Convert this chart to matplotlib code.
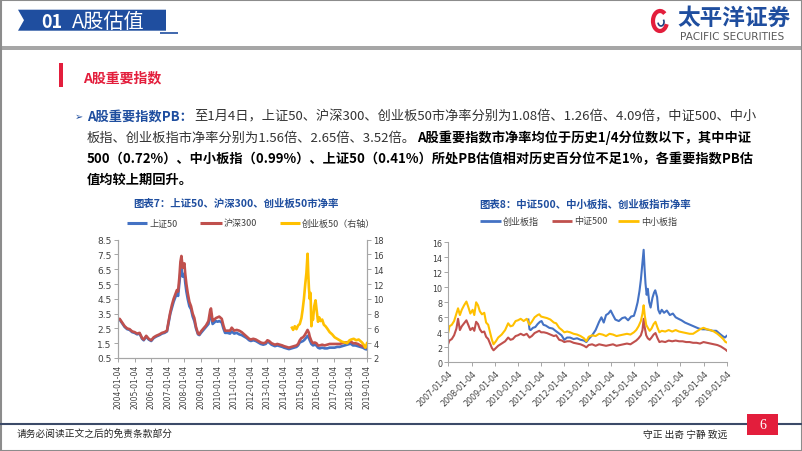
import matplotlib
matplotlib.use('Agg')
import matplotlib.pyplot as plt
from matplotlib.patches import Polygon, Rectangle, Arc
from matplotlib.lines import Line2D

W, H = 802, 452
FAM = ['Noto Sans CJK SC', 'DejaVu Sans']
BLUE = '#1F4E9F'
C_BLUE, C_RED, C_YEL = '#4472C4', '#C0504D', '#FFC000'
GRID = '#A6A6A6'
TICK = '#404040'

# ---- chart 7 data: 上证50 / 沪深300 (left axis), 创业板50 (right axis)
t_big = [2004.0, 2004.1, 2004.25, 2004.4, 2004.55, 2004.7, 2004.85,
         2005.0, 2005.15, 2005.3, 2005.45, 2005.55, 2005.7, 2005.85,
         2006.0, 2006.15, 2006.3, 2006.5, 2006.65, 2006.8, 2006.95,
         2007.05, 2007.15, 2007.25, 2007.35, 2007.45, 2007.55, 2007.62, 2007.7, 2007.76, 2007.82, 2007.9,
         2008.0, 2008.05, 2008.12, 2008.2, 2008.3, 2008.4, 2008.5, 2008.6, 2008.7, 2008.82, 2008.9,
         2009.0, 2009.15, 2009.3, 2009.45, 2009.55, 2009.6, 2009.7, 2009.8, 2009.9,
         2010.0, 2010.1, 2010.25, 2010.35, 2010.45, 2010.6, 2010.75, 2010.85,
         2011.0, 2011.15, 2011.3, 2011.45, 2011.6, 2011.75, 2011.9,
         2012.0, 2012.15, 2012.3, 2012.45, 2012.6, 2012.75, 2012.9,
         2013.0, 2013.1, 2013.25, 2013.45, 2013.6, 2013.75, 2013.9,
         2014.0, 2014.15, 2014.3, 2014.45, 2014.6, 2014.75, 2014.85, 2014.95,
         2015.05, 2015.15, 2015.25, 2015.35, 2015.42, 2015.5, 2015.55, 2015.65, 2015.75, 2015.85, 2015.95,
         2016.05, 2016.15, 2016.3, 2016.45, 2016.6, 2016.75, 2016.9,
         2017.05, 2017.2, 2017.35, 2017.5, 2017.65, 2017.8, 2017.95,
         2018.05, 2018.15, 2018.3, 2018.45, 2018.6, 2018.75, 2018.9, 2019.0]
sz50 = [3.05, 3.1, 2.85, 2.6, 2.45, 2.4, 2.25,
        2.2, 2.1, 2.15, 1.8, 1.7, 1.95, 1.75,
        1.65, 1.85, 1.95, 2.05, 2.15, 2.2, 2.3,
        2.9, 3.5, 3.9, 4.3, 4.6, 4.9, 4.7, 5.6, 6.3, 6.5, 6.0,
        6.2, 5.6, 5.0, 4.5, 4.0, 3.8, 3.3, 3.0, 2.5, 2.1, 2.05,
        2.2, 2.4, 2.6, 2.8, 3.4, 3.5, 2.8, 2.9, 3.0,
        2.95, 3.0, 2.9, 2.5, 2.2, 2.2, 2.15, 2.3,
        2.15, 2.2, 2.1, 2.05, 1.95, 1.85, 1.7,
        1.65, 1.7, 1.65, 1.55, 1.45, 1.4, 1.45,
        1.6, 1.55, 1.4, 1.3, 1.35, 1.3, 1.25,
        1.2, 1.15, 1.1, 1.15, 1.2, 1.25, 1.35, 1.55,
        1.6, 1.65, 1.75, 1.9, 2.0, 1.85, 1.7, 1.45, 1.35, 1.4, 1.35,
        1.2, 1.15, 1.2, 1.15, 1.15, 1.2, 1.2,
        1.2, 1.25, 1.25, 1.3, 1.35, 1.4, 1.45,
        1.45, 1.35, 1.35, 1.3, 1.25, 1.2, 1.1, 1.08]
hs300 = [3.1, 3.15, 2.9, 2.65, 2.5, 2.45, 2.3,
         2.25, 2.15, 2.2, 1.85, 1.75, 2.0, 1.8,
         1.7, 1.9, 2.0, 2.1, 2.2, 2.25, 2.35,
         3.0, 3.6, 4.1, 4.5, 4.8, 5.1, 5.0, 6.0, 7.0, 7.4, 6.6,
         6.9, 6.2, 5.5, 4.9, 4.3, 4.0, 3.5, 3.2, 2.6, 2.15, 2.1,
         2.3, 2.5, 2.7, 3.0, 3.7, 3.85, 3.0, 3.1, 3.2,
         3.25, 3.3, 3.15, 2.7, 2.35, 2.35, 2.35, 2.55,
         2.35, 2.4, 2.35, 2.25, 2.1, 1.95, 1.8,
         1.75, 1.8, 1.75, 1.65, 1.55, 1.5, 1.55,
         1.7, 1.65, 1.5, 1.4, 1.45, 1.4, 1.35,
         1.3, 1.25, 1.2, 1.25, 1.3, 1.35, 1.45, 1.7,
         1.85, 1.9, 2.05, 2.25, 2.4, 2.2, 1.95, 1.65, 1.5, 1.55, 1.5,
         1.35, 1.35, 1.4, 1.35, 1.4, 1.45, 1.45,
         1.45, 1.45, 1.45, 1.5, 1.55, 1.55, 1.6,
         1.6, 1.5, 1.5, 1.45, 1.35, 1.3, 1.2, 1.26]
t_cyb50 = [2014.48, 2014.55, 2014.65, 2014.75, 2014.85, 2014.95,
           2015.05, 2015.12, 2015.2, 2015.28, 2015.35, 2015.42, 2015.46, 2015.5,
           2015.55, 2015.6, 2015.65, 2015.7, 2015.75, 2015.82, 2015.9, 2015.97,
           2016.05, 2016.12, 2016.2, 2016.3, 2016.4, 2016.5, 2016.6, 2016.75, 2016.9,
           2017.05, 2017.2, 2017.35, 2017.5, 2017.65, 2017.8, 2017.95,
           2018.05, 2018.2, 2018.35, 2018.5, 2018.6, 2018.7, 2018.8, 2018.9, 2018.95, 2019.0]
cyb50 = [6.1, 5.8, 6.3, 5.9, 6.4, 6.6,
         7.4, 8.5, 10.0, 12.0, 13.5, 16.1, 13.5, 11.5,
         10.0, 10.8, 6.3, 7.5, 7.2, 9.0, 9.8, 8.4,
         6.9, 7.5, 7.0, 7.2, 6.5, 6.3, 6.0, 5.5, 5.2,
         4.8, 4.6, 4.4, 4.2, 4.1, 4.0, 4.4,
         4.5, 4.6, 4.4, 4.5, 4.3, 4.1, 3.8, 3.4, 3.6, 4.0]
years_big = list(range(2004, 2020))

# ---- chart 8 data: 创业板指 / 中证500 / 中小板指
t_mid = [2007.0, 2007.05, 2007.15, 2007.25, 2007.35, 2007.42, 2007.5, 2007.58, 2007.68, 2007.78, 2007.86, 2007.95,
         2008.05, 2008.12, 2008.2, 2008.28, 2008.36, 2008.45, 2008.55, 2008.63, 2008.72, 2008.8, 2008.88, 2008.95,
         2009.05, 2009.15, 2009.3, 2009.45, 2009.58, 2009.68, 2009.78, 2009.9,
         2010.0, 2010.12, 2010.25, 2010.38, 2010.5, 2010.6, 2010.72, 2010.85, 2010.92,
         2011.0, 2011.12, 2011.25, 2011.4, 2011.55, 2011.65, 2011.78, 2011.9,
         2012.0, 2012.12, 2012.25, 2012.4, 2012.55, 2012.7, 2012.85, 2012.95,
         2013.05, 2013.2, 2013.35, 2013.5, 2013.65, 2013.8, 2013.95,
         2014.1, 2014.25, 2014.4, 2014.55, 2014.7, 2014.85,
         2015.0, 2015.1, 2015.2, 2015.3, 2015.37, 2015.42, 2015.47, 2015.53, 2015.6, 2015.68, 2015.76, 2015.85, 2015.93,
         2016.02, 2016.1, 2016.2, 2016.35, 2016.5, 2016.65, 2016.8, 2016.95,
         2017.1, 2017.25, 2017.4, 2017.55, 2017.7, 2017.85,
         2018.0, 2018.15, 2018.3, 2018.45, 2018.6, 2018.75, 2018.85, 2018.95, 2019.0]
zxb = [4.0, 4.8, 5.0, 5.5, 6.5, 7.2, 6.3, 7.0, 7.6, 8.1, 7.4, 6.5,
       7.0, 6.3, 8.0, 7.6, 6.8, 6.4, 6.6, 5.3, 5.0, 4.0, 3.0, 2.4,
       2.8, 3.3, 3.7, 4.3, 5.2, 4.8, 4.9, 5.5,
       5.6, 5.8, 5.5, 5.8, 5.0, 5.4, 6.0, 6.3, 6.4,
       6.1, 6.0, 5.9, 5.7, 5.3, 5.2, 4.6, 4.3,
       4.0, 4.1, 4.0, 3.8, 3.7, 3.5, 3.2, 2.8,
       3.4, 3.6, 3.5, 3.8, 3.7, 3.5, 3.8,
       3.7, 3.5, 3.6, 3.7, 3.8, 3.7,
       4.0, 4.3, 4.8, 5.5, 6.5, 7.6, 6.2, 5.0, 4.6, 4.2, 4.5, 5.1, 5.4,
       4.6, 4.0, 4.2, 4.1, 4.3, 4.1, 4.3, 4.1,
       4.0, 3.9, 3.8, 3.8, 4.1, 4.4,
       4.6, 4.4, 4.3, 4.1, 3.8, 3.4, 3.1, 2.7, 2.65]
zz500 = [2.5, 2.9, 3.1, 3.6, 4.5, 5.8, 4.3, 4.8, 5.2, 5.6, 5.0, 4.3,
         4.6, 4.2, 5.4, 5.1, 4.4, 4.0, 4.1, 3.4, 3.1, 2.5, 1.9, 1.6,
         1.9, 2.2, 2.5, 2.8, 3.3, 3.0, 3.1, 3.5,
         3.6, 3.8, 3.6, 3.8, 3.3, 3.5, 3.9, 4.1, 4.2,
         4.0, 4.0, 3.9, 3.7, 3.5, 3.6, 3.0, 2.9,
         2.7, 2.8, 2.8, 2.6, 2.5, 2.4, 2.2, 2.0,
         2.3, 2.4, 2.2, 2.4, 2.3, 2.2, 2.3,
         2.4, 2.2, 2.3, 2.4, 2.5, 2.4,
         2.7, 2.9, 3.2, 3.6, 4.3, 5.8, 4.6, 3.6, 3.2, 3.0, 3.3, 3.7, 3.9,
         3.2, 2.7, 2.8, 2.7, 2.9, 2.8, 2.9, 2.8,
         2.8, 2.7, 2.7, 2.6, 2.6, 2.5,
         2.7, 2.6, 2.5, 2.4, 2.3, 2.1, 1.9, 1.7, 1.56]
t_cyb = [2010.45, 2010.5, 2010.55, 2010.65, 2010.75, 2010.85, 2010.95,
         2011.02, 2011.1, 2011.2, 2011.35, 2011.5, 2011.62, 2011.75, 2011.88,
         2012.0, 2012.12, 2012.25, 2012.4, 2012.55, 2012.7, 2012.85, 2012.95,
         2013.05, 2013.2, 2013.35, 2013.5, 2013.6, 2013.7, 2013.8, 2013.9,
         2014.0, 2014.08, 2014.2, 2014.35, 2014.5, 2014.62, 2014.75, 2014.88,
         2015.0, 2015.08, 2015.16, 2015.24, 2015.3, 2015.36, 2015.42, 2015.46,
         2015.5, 2015.55, 2015.6, 2015.66, 2015.72, 2015.8, 2015.87, 2015.92,
         2016.0, 2016.05, 2016.12, 2016.2, 2016.3, 2016.42, 2016.55, 2016.68, 2016.8, 2016.92,
         2017.05, 2017.2, 2017.35, 2017.5, 2017.65, 2017.8, 2017.95,
         2018.1, 2018.25, 2018.4, 2018.55, 2018.7, 2018.82, 2018.92, 2019.0]
cyb = [5.7, 4.4, 4.3, 4.6, 4.7, 5.1, 5.4,
       5.5, 5.0, 4.9, 4.6, 4.5, 4.2, 3.9, 3.6,
       3.0, 3.3, 3.3, 3.1, 3.2, 3.0, 2.9, 2.7,
       3.1, 3.6, 4.3, 5.4, 6.0, 5.3, 6.3, 6.5,
       6.9, 6.4, 5.7, 5.5, 5.9, 6.0, 5.6, 6.1,
       6.2, 7.0, 8.0, 9.5, 11.0, 13.0, 15.0, 12.5,
       10.5, 9.0, 9.8, 8.0, 7.3, 8.6, 9.3, 9.6,
       8.7, 7.0, 6.5, 7.0, 6.6, 6.9, 6.3, 6.5, 6.0, 5.8,
       5.6, 5.3, 5.1, 4.9, 4.7, 4.5, 4.4,
       4.4, 4.3, 4.2, 4.2, 3.8, 3.5, 3.3, 3.52]
years_mid = list(range(2007, 2020))

para = [
    [("A股重要指数PB：", BLUE, 'bold'),
     ("至1月4日，上证50、沪深300、创业板50市净率分别为1.08倍、1.26倍、4.09倍，中证500、中小", '#333333', 'normal')],
    [("板指、创业板指市净率分别为1.56倍、2.65倍、3.52倍。", '#333333', 'normal'),
     ("A股重要指数市净率均位于历史1/4分位数以下，其中中证", '#000000', 'bold')],
    [("500（0.72%）、中小板指（0.99%）、上证50（0.41%）所处PB估值相对历史百分位不足1%，各重要指数PB估", '#000000', 'bold')],
    [("值均较上期回升。", '#000000', 'bold')],
]

fig = plt.figure(figsize=(W / 100, H / 100), dpi=100)
fig.patch.set_facecolor('white')
rend = fig.canvas.get_renderer()


def txt(x, y, s, **kw):
    kw.setdefault('family', FAM)
    kw.setdefault('va', 'center')
    return fig.text(x / W, 1 - y / H, s, **kw)


def hline(x0, x1, y, color, lw):
    fig.add_artist(Line2D([x0 / W, x1 / W], [1 - y / H] * 2, color=color, lw=lw,
                          solid_capstyle='butt'))


def rect(x0, y0, x1, y1, color):
    fig.add_artist(Rectangle((x0 / W, 1 - y1 / H), (x1 - x0) / W, (y1 - y0) / H,
                             transform=fig.transFigure, color=color, lw=0))


# ---- slide header
fig.add_artist(Polygon([(18 / W, 1 - 10.7 / H), (166 / W, 1 - 10.7 / H), (166 / W, 1 - 31.7 / H),
                        (18 / W, 1 - 31.7 / H), (24 / W, 1 - 21.2 / H)],
                       closed=True, transform=fig.transFigure, color=BLUE, lw=0))
hline(160, 178, 34, BLUE, 1.2)
txt(41, 22, "01", color='white', fontsize=13, weight='bold')
txt(72, 22, "A股估值", color='white', fontsize=14.5)
rect(0, 46.5, W, 50.5, '#A6A6A6')

# logo
fig.add_artist(Arc((660 / W, 1 - 22 / H), 14 / W, 20 / H, theta1=70, theta2=320,
                   transform=fig.transFigure, color='#E31E3C', lw=3))
fig.add_artist(Arc((661 / W, 1 - 23 / H), 6 / W, 8 / H, theta1=200, theta2=60,
                   transform=fig.transFigure, color='#1F3F7F', lw=1.2))
txt(677, 18, "太平洋证券", color=BLUE, fontsize=16.3, weight='bold')
txt(680, 37, "PACIFIC SECURITIES", color='#595959', fontsize=7.6, family='DejaVu Sans')

# section label
rect(59, 64, 63, 88, '#E31E3C')
txt(83, 78, "A股重要指数", color='#E31E3C', fontsize=10, weight='bold')

# paragraph
txt(75, 117, "➢", color=BLUE, fontsize=7)
for i, line in enumerate(para):
    x = 87
    y = 117 + i * 21
    for s, col, wt in line:
        t = txt(x, y, s, color=col, fontsize=9.5, weight=wt)
        x += t.get_window_extent(rend).width + 1

# ---- chart 7
txt(236, 204, "图表7：上证50、沪深300、创业板50市净率", color=BLUE, fontsize=7.5,
    weight='bold', ha='center')
for x0, x1, col, lab in [(127, 147, C_BLUE, "上证50"), (200, 222, C_RED, "沪深300"),
                         (280, 300, C_YEL, "创业板50（右轴）")]:
    hline(x0, x1, 224, col, 2.2)
    txt(x1 + 2, 224, lab, color=TICK, fontsize=6.5)

ax1 = fig.add_axes([118 / W, 1 - 359 / H, 249 / W, 118.3 / H])
ax1.plot(t_big, sz50, color=C_BLUE, lw=1.9)
ax1.plot(t_big, hs300, color=C_RED, lw=1.9)
ax1.set_xlim(2004, 2019)
ax1.set_ylim(0.5, 8.5)
ax1.set_yticks([0.5 + k for k in range(9)])
ax1.set_yticklabels([f"{0.5 + k:.1f}" for k in range(9)])
ax1.set_xticks(years_big)
ax1.set_xticklabels([f"{y}-01-04" for y in years_big], rotation=90)
ax1r = ax1.twinx()
ax1r.plot(t_cyb50, cyb50, color=C_YEL, lw=1.9)
ax1r.set_ylim(2, 18)
ax1r.set_yticks(range(2, 19, 2))

for a in (ax1, ax1r):
    a.patch.set_alpha(0)
    a.spines['top'].set_visible(False)
    for s in ('left', 'right', 'bottom'):
        a.spines[s].set_color(GRID)
        a.spines[s].set_linewidth(0.8)
    a.tick_params(direction='out', length=3, width=0.7, color=GRID, labelcolor=TICK, pad=1.5)
ax1.tick_params(axis='y', labelsize=6.5)
ax1.tick_params(axis='x', labelsize=5.5)
ax1r.tick_params(axis='y', labelsize=6)

# ---- chart 8
txt(585, 205, "图表8：中证500、中小板指、创业板指市净率", color=BLUE, fontsize=7.5,
    weight='bold', ha='center')
for x0, x1, col, lab in [(480, 501, C_BLUE, "创业板指"), (552, 572, C_RED, "中证500"),
                         (618, 639, C_YEL, "中小板指")]:
    hline(x0, x1, 222, col, 2.0)
    txt(x1 + 2, 222, lab, color=TICK, fontsize=6.5)

ax2 = fig.add_axes([448.3 / W, 1 - 363.3 / H, 278.4 / W, 120 / H])
ax2.plot(t_cyb, cyb, color=C_BLUE, lw=1.5)
ax2.plot(t_mid, zz500, color=C_RED, lw=1.5)
ax2.plot(t_mid, zxb, color=C_YEL, lw=1.5)
ax2.set_xlim(2007, 2019)
ax2.set_ylim(0, 16)
ax2.set_yticks(range(0, 17, 2))
ax2.set_xticks(years_mid)
ax2.set_xticklabels([f"{y}-01-04" for y in years_mid], rotation=45, ha='right',
                    va='top', rotation_mode='anchor')
ax2.patch.set_alpha(0)
for s in ('top', 'right'):
    ax2.spines[s].set_visible(False)
for s in ('left', 'bottom'):
    ax2.spines[s].set_color(GRID)
    ax2.spines[s].set_linewidth(0.8)
ax2.tick_params(direction='out', length=3, width=0.7, color=GRID, labelcolor=TICK,
                labelsize=5.8, pad=1.5)

# ---- footer
hline(0, 747, 425, '#3B4A68', 1.5)
hline(778, W, 425, '#3B4A68', 1.5)
rect(747, 415, 778, 436, '#E31E3C')
txt(762.5, 425.5, "6", color='white', fontsize=10, ha='center', family='Liberation Serif')
txt(17, 434, "请务必阅读正文之后的免责条款部分", color='#262626', fontsize=7)
txt(643, 435, "守正 出奇 宁静 致远", color='#262626', fontsize=7)

# slide frame
fig.add_artist(Rectangle((0.5 / W, 0.5 / H), (W - 1) / W, (H - 1) / H, transform=fig.transFigure,
                         fill=False, edgecolor='#8C8C8C', lw=1.5))

fig.savefig('out.png', dpi=100)
